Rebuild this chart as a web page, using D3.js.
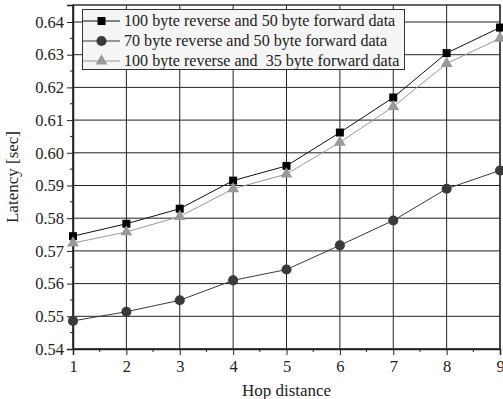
<!DOCTYPE html>
<html><head><meta charset="utf-8">
<script src="https://cdn.jsdelivr.net/npm/d3@7"></script>
<style>body{margin:0;background:#fff}svg{display:block}svg text{font-family:"Liberation Serif","Times New Roman",Times,"DejaVu Serif",serif !important;fill:#222}</style>
</head><body><svg id="c" width="503" height="399"></svg>
<script>
const hops = [1,2,3,4,5,6,7,8,9];
const seriesNames = ["100 byte reverse and 50 byte forward data","70 byte reverse and 50 byte forward data","100 byte reverse and  35 byte forward data"];
const s100_50 = [0.5745,0.5783,0.5829,0.5915,0.5960,0.6062,0.6169,0.6305,0.6383];
const s70_50  = [0.5486,0.5514,0.5549,0.5610,0.5643,0.5717,0.5793,0.5890,0.5946];
const s100_35 = [0.5724,0.5758,0.5805,0.5890,0.5935,0.6032,0.6141,0.6273,0.6350];
const yTicks = [0.54,0.55,0.56,0.57,0.58,0.59,0.60,0.61,0.62,0.63,0.64];
const xTicks = [1,2,3,4,5,6,7,8,9];

const svg = d3.select("#c");
const L=73,R=500,T=5,B=349;
const x = d3.scaleLinear().domain([1,9]).range([L,R]);
const y = d3.scaleLinear().domain([0.54,0.6452]).range([B,T]);

// grid
const g = svg.append("g");
g.selectAll(".vg").data(xTicks).join("line").attr("x1",d=>x(d)).attr("x2",d=>x(d)).attr("y1",T).attr("y2",B).attr("stroke","#222").attr("stroke-width",1);
g.selectAll(".hg").data(yTicks).join("line").attr("y1",d=>y(d)).attr("y2",d=>y(d)).attr("x1",L).attr("x2",R).attr("stroke","#222").attr("stroke-width",1);
// frame
svg.append("rect").attr("x",L).attr("y",T).attr("width",R-L).attr("height",B-T).attr("fill","none").attr("stroke","#333").attr("stroke-width",1.5);

// axes
const yAxis = d3.axisLeft(y).tickValues(yTicks).tickFormat(d3.format(".2f")).tickSize(6).tickPadding(3);
const ya = svg.append("g").attr("transform",`translate(${L},0)`).call(yAxis);
const yMinor = d3.range(0,10).map(i=>0.545+i*0.01);
ya.selectAll(".mn").data(yMinor).join("line").attr("x1",0).attr("x2",-3).attr("y1",d=>y(d)).attr("y2",d=>y(d)).attr("stroke","#222");
const xAxis = d3.axisBottom(x).tickValues(xTicks).tickFormat(d3.format("d")).tickSize(6).tickPadding(5);
const xa = svg.append("g").attr("transform",`translate(0,${B})`).call(xAxis);
const xMinor = d3.range(0,8).map(i=>1.5+i);
xa.selectAll(".mn").data(xMinor).join("line").attr("y1",0).attr("y2",3).attr("x1",d=>x(d)).attr("x2",d=>x(d)).attr("stroke","#222");
[ya,xa].forEach(a=>{a.attr("font-family",null).attr("font-size",null);a.select(".domain").attr("stroke","#222").attr("stroke-width",1.5);a.selectAll(".tick line").attr("stroke","#222");a.selectAll("text").style("font-size","16.5px").attr("fill","#222");});

svg.append("text").attr("transform",`translate(18,${(T+B)/2}) rotate(-90)`).attr("text-anchor","middle").style("font-size","17px").text("Latency [sec]");
svg.append("text").attr("x",(L+R)/2).attr("y",396).attr("text-anchor","middle").style("font-size","17px").text("Hop distance");

// series
const series = [
 {vals:s100_50, color:"#000", marker:"square", stroke:"#111"},
 {vals:s70_50, color:"#3a3a3a", marker:"circle", stroke:"#3a3a3a"},
 {vals:s100_35, color:"#999", marker:"triangle", stroke:"#999"}
];
const line = d3.line().x((d,i)=>x(hops[i])).y(d=>y(d));
const sym = {square:d3.symbol(d3.symbolSquare,64), circle:d3.symbol(d3.symbolCircle,80), triangle:d3.symbol(d3.symbolTriangle,60)};
series.forEach(s=>{
  svg.append("path").attr("d",line(s.vals)).attr("fill","none").attr("stroke",s.stroke).attr("stroke-width",1);
});
series.forEach(s=>{
  svg.append("g").selectAll("path").data(s.vals).join("path").attr("d",sym[s.marker]()).attr("transform",(d,i)=>`translate(${x(hops[i])},${y(d)})`).attr("fill",s.color);
});

// legend
const lg = svg.append("g");
lg.append("rect").attr("x",82.5).attr("y",9.5).attr("width",322).attr("height",60).attr("fill","#f5f5f5").attr("stroke","#333").attr("stroke-width",1);
series.forEach((s,i)=>{
  const yy = 21+i*20;
  lg.append("line").attr("x1",83).attr("x2",120).attr("y1",yy).attr("y2",yy).attr("stroke",s.stroke);
  lg.append("path").attr("d",sym[s.marker]()).attr("transform",`translate(101.5,${yy})`).attr("fill",s.color);
  lg.append("text").attr("x",124).attr("y",yy+5).style("font-size","16.1px").style("white-space","pre").text(seriesNames[i]);
});
</script></body></html>
